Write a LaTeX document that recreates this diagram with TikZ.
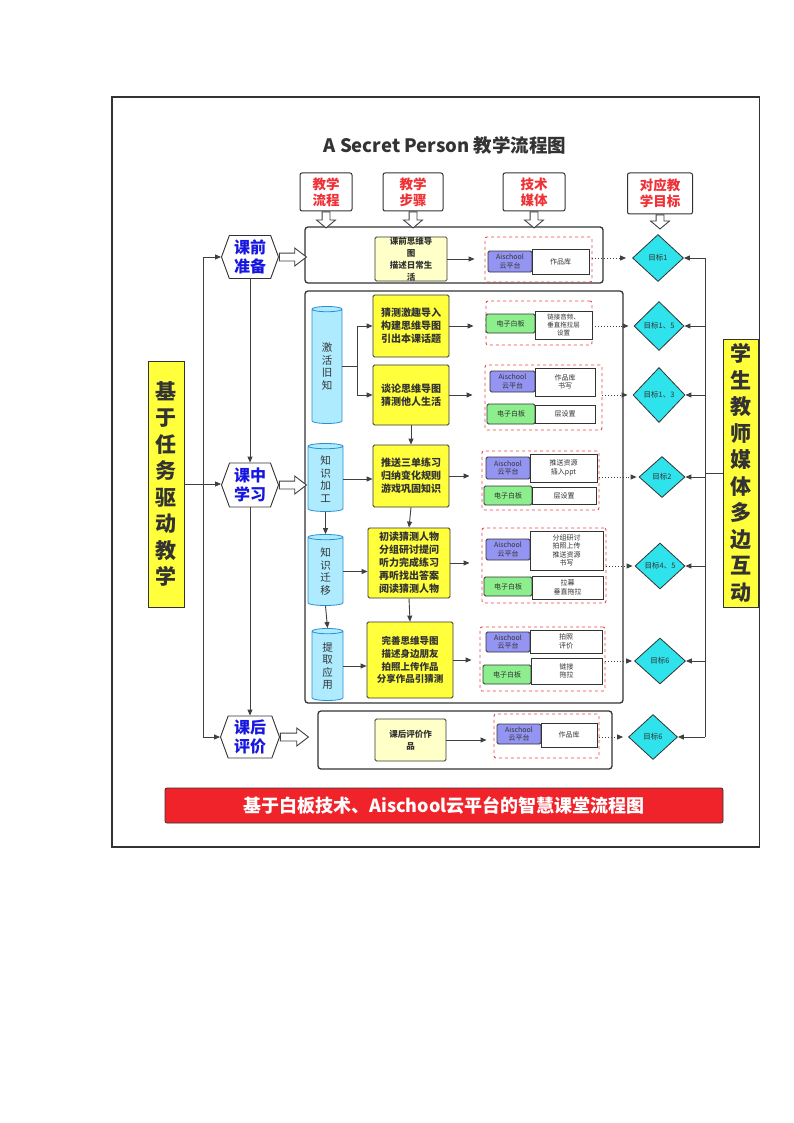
\documentclass[tikz,border=0pt]{standalone}
\usepackage{fontspec}
\setmainfont{Noto Sans CJK SC}
\usetikzlibrary{arrows.meta,shapes.geometric,shapes.symbols,shapes.arrows,calc}
\definecolor{lc}{HTML}{404040}
\definecolor{dk}{HTML}{333333}
\definecolor{hred}{HTML}{F03035}
\definecolor{hblue}{HTML}{1616E0}
\definecolor{yel}{HTML}{FFFF3C}
\definecolor{lyel}{HTML}{FFFFC8}
\definecolor{pur}{HTML}{9494F2}
\definecolor{grn}{HTML}{8CEE8C}
\definecolor{cya}{HTML}{2FE3EC}
\definecolor{cylf}{HTML}{AEEBFF}
\definecolor{cylb}{HTML}{2A8FCF}
\definecolor{dred}{HTML}{F04545}
\definecolor{bred}{HTML}{F0222A}
\tikzset{
  sz/.style 2 args={minimum width=#1pt, minimum height=#2pt},
  box/.style={draw=dk, line width=0.8pt, inner sep=0pt, align=center},
  hdr/.style={box, fill=white, rounded corners=2pt, text=hred, line width=1pt,
    font=\fontsize{13.5}{16}\selectfont\bfseries},
  hexa/.style={signal, signal to=west and east, signal pointer angle=140, draw=dk,
    line width=0.9pt, fill=white, text=hblue, inner sep=0pt, align=center,
    font=\fontsize{16}{19.5}\selectfont\bfseries},
  dia/.style={diamond, draw=dk, fill=cya, line width=0.8pt, inner sep=0pt,
    text=dk, font=\fontsize{7.5}{9}\selectfont},
  bigbox/.style={draw=dk, line width=1.3pt, rounded corners=3pt, fill=white},
  grp/.style={draw=dred, dashed, line width=0.9pt, rounded corners=2pt, inner sep=0pt},
  ybox/.style={box, fill=yel, rounded corners=1.5pt, text=dk,
    font=\fontsize{10}{13}\selectfont\bfseries},
  lybox/.style={box, fill=lyel, rounded corners=1.5pt, text=dk,
    font=\fontsize{8.5}{12}\selectfont\bfseries},
  pbox/.style={box, fill=pur, rounded corners=1.5pt, text=dk,
    font=\fontsize{7}{8.5}\selectfont},
  gbox/.style={box, fill=grn, rounded corners=1.5pt, text=dk,
    font=\fontsize{7}{8.5}\selectfont},
  wbox/.style={box, fill=white, text=dk, font=\fontsize{7}{8.5}\selectfont},
  cyl/.style={cylinder, shape border rotate=90, draw=cylb, fill=cylf, line width=0.8pt,
    inner sep=0pt, shape aspect=0.5, align=center, text=dk,
    font=\fontsize{10.5}{12.5}\selectfont},
  vbox/.style={box, fill=yel, text=dk, font=\fontsize{21}{26.5}\selectfont\bfseries},
  line/.style={draw=lc, line width=0.9pt},
  arr/.style={line, -{Triangle[length=6pt,width=5pt]}},
  darr/.style={draw=lc, line width=0.9pt, dotted, -{Triangle[length=6pt,width=5pt]}},
  harrowR/.style={single arrow, draw=lc, fill=white, line width=0.9pt, inner xsep=0pt,
    inner ysep=3.5pt, single arrow head extend=5pt, single arrow tip angle=75,
    minimum width=0pt, anchor=tail},
  harrowD/.style={single arrow, rotate=-90, draw=lc, fill=white, line width=0.9pt,
    inner xsep=0pt, inner ysep=3.5pt, single arrow head extend=5.5pt,
    single arrow tip angle=100, minimum width=0pt, anchor=tail}
}
\begin{document}
\begin{tikzpicture}[x=1pt,y=-1pt]
\useasboundingbox (0,0) rectangle (794,1123);
\fill[white] (0,0) rectangle (794,1123);
\draw[draw=dk, line width=1.8pt] (112,97) rectangle (759.5,847);

% title
\node[text=dk, font=\fontsize{18.5}{22}\selectfont\bfseries] (title) at (445,145) {A Secret Person 教学流程图};

% headers
\node[hdr, sz={52}{38}] (ha) at (326,192) {教学\\流程};
\node[hdr, sz={60}{38}] (hb) at (413,192) {教学\\步骤};
\node[hdr, sz={62}{38}] (hc) at (534,192) {技术\\媒体};
\node[hdr, sz={65}{41}] (hd) at (660,193.5) {对应教\\学目标};

% containers
\node[bigbox, sz={298}{56}] (top) at (454,255) {};
\node[bigbox, sz={318}{412}] (mb) at (464,497) {};
\node[bigbox, sz={294}{58}] (bb) at (465,740) {};

% header arrows
\node[harrowD, minimum height=16pt] (aa) at (ha.south) {};
\node[harrowD, minimum height=16pt] (ab) at (hb.south) {};
\node[harrowD, minimum height=16pt] (ac) at (hc.south) {};

% left side
\node[vbox, sz={36}{246}] (lb) at (166,484) {基\\于\\任\\务\\驱\\动\\教\\学};
\node[hexa, sz={57}{43}] (hx1) at (250,257) {课前\\准备};
\node[hexa, sz={57}{44}] (hx2) at (250,485) {课中\\学习};
\node[hexa, sz={59}{42}] (hx3) at (250,737) {课后\\评价};
\node[harrowR, minimum height=27pt] (r1) at (hx1.east) {};
\node[harrowR, minimum height=27pt] (r2) at (hx2.east) {};
\node[harrowR, minimum height=28pt] (r3) at (hx3.east) {};

% right side
\node[vbox, sz={35}{268}] (rb) at (740.5,473) {学\\生\\教\\师\\媒\\体\\多\\边\\互\\动};

% diamonds
\node[dia, sz={51}{47}] (d1) at (658,258) {目标1};
\node[dia, sz={50}{49}] (d2) at (659,326) {目标1、5};
\node[dia, sz={52}{55}] (d3) at (659,395) {目标1、3};
\node[dia, sz={46}{41}] (d4) at (662,477) {目标2};
\node[dia, sz={50}{46}] (d5) at (660,566) {目标4、5};
\node[dia, sz={51}{46}] (d6) at (660,661) {目标6};
\node[dia, sz={49}{45}] (d7) at (653,737) {目标6};
\node[harrowD, minimum height=14pt] (ad) at (hd.south) {};

% top row content
\node[lybox, sz={72}{42}] (ly1) at (411,259) {课前思维导\\图\\描述日常生\\活};
\node[grp, sz={107}{45}] (g0) at (538.5,259.5) {};
\node[pbox, sz={44}{21}] (p0) at (510,261.5) {Aischool\\云平台};
\node[wbox, sz={57}{25}] (w0) at (560.5,261.5) {作品库};

% middle: cylinders
\node[cyl, minimum width=30pt, minimum height=117pt] (c1) at (327,366.5) {激\\活\\旧\\知};
\node[cyl, minimum width=35pt, minimum height=68pt] (c2) at (325.5,479) {知\\识\\加\\工};
\node[cyl, minimum width=35pt, minimum height=71pt] (c3) at (325.5,571.5) {知\\识\\迁\\移};
\node[cyl, minimum width=31pt, minimum height=72pt] (c4) at (327.5,666) {提\\取\\应\\用};

% middle: yellow boxes
\node[ybox, sz={76}{62}] (y1) at (411,326) {猜测激趣导入\\构建思维导图\\引出本课话题};
\node[ybox, sz={76}{60}] (y2) at (411,395) {谈论思维导图\\猜测他人生活};
\node[ybox, sz={76}{62}] (y3) at (411,476) {推送三单练习\\归纳变化规则\\游戏巩固知识};
\node[ybox, sz={82}{70}] (y4) at (409,563) {初读猜测人物\\分组研讨提问\\听力完成练习\\再听找出答案\\阅读猜测人物};
\node[ybox, sz={86}{76}, font=\fontsize{9.5}{12.8}\selectfont\bfseries] (y5) at (410,660) {完善思维导图\\描述身边朋友\\拍照上传作品\\分享作品引猜测};

% middle: media groups
\node[grp, sz={106}{44}] (g1) at (539,323) {};
\node[gbox, sz={49}{19}] (gr1) at (510.5,323.5) {电子白板};
\node[wbox, sz={57}{28}, font=\fontsize{6.5}{8}\selectfont] (wt1) at (563.5,325) {链接音频、\\垂直拖拉层\\设置};

\node[grp, sz={117}{65}] (g2) at (543.5,397.5) {};
\node[pbox, sz={45}{21}] (pu2) at (512.5,381.5) {Aischool\\云平台};
\node[wbox, sz={60}{28}] (wt2) at (565,382) {作品库\\书写};
\node[gbox, sz={48}{20}] (gr2) at (511,414) {电子白板};
\node[wbox, sz={60}{18}] (wt2b) at (565,414) {层设置};

\node[grp, sz={117}{59}] (g3) at (540.5,480.5) {};
\node[pbox, sz={44}{22}] (pu3) at (508,468) {Aischool\\云平台};
\node[wbox, sz={67}{28}] (wt3) at (563.5,468) {推送资源\\插入ppt};
\node[gbox, sz={48}{19}] (gr3) at (508,495.5) {电子白板};
\node[wbox, sz={64}{17}] (wt3b) at (564,495.5) {层设置};

\node[grp, sz={124}{75}] (g4) at (544,565.5) {};
\node[pbox, sz={44}{21}] (pu4) at (508,549.5) {Aischool\\云平台};
\node[wbox, sz={73}{39}] (wt4) at (566.5,550.5) {分组研讨\\拍照上传\\推送资源\\书写};
\node[gbox, sz={48}{19}] (gr4) at (508,586.5) {电子白板};
\node[wbox, sz={71}{23}] (wt4b) at (567.5,587.5) {拉幕\\垂直拖拉};

\node[grp, sz={125}{64}] (g5) at (542.5,659) {};
\node[pbox, sz={44}{20}] (pu5) at (508,642) {Aischool\\云平台};
\node[wbox, sz={72}{23}] (wt5) at (566,641.5) {拍照\\评价};
\node[gbox, sz={48}{19}] (gr5) at (507,674.5) {电子白板};
\node[wbox, sz={71}{26}] (wt5b) at (566.5,671) {链接\\拖拉};

% bottom row content
\node[lybox, sz={71}{42}] (ly2) at (410.5,740) {课后评价作\\品};
\node[grp, sz={105}{44}] (g6) at (546.5,736) {};
\node[pbox, sz={44}{20}] (p6) at (519,734) {Aischool\\云平台};
\node[wbox, sz={56}{24}] (w6) at (569,735) {作品库};

% banner
\node[draw=dk, fill=bred, line width=0.8pt, rounded corners=2pt, sz={558}{35},
  text=white, font=\fontsize{18}{20}\selectfont\bfseries] (ban) at (444,805.5)
  {基于白板技术、Aischool云平台的智慧课堂流程图};

% ---- connectors ----
% left side
\coordinate (lx) at (203,0);
\draw[line] (hx1.west -| lx) -- (hx3.west -| lx);
\draw[arr] (hx1.west -| lx) -- (hx1.west);
\draw[arr] (hx3.west -| lx) -- (hx3.west);
\draw[arr] (lb.east) -- (lb.east -| hx2.west);
\draw[arr] (hx1.south) -- (hx2.north);
\draw[arr] (hx2.south) -- (hx3.north);

% right side
\coordinate (rx) at (705,0);
\draw[line] (d1.east -| rx) -- (d7.east -| rx);
\draw[line] (rb.west) -- (rb.west -| rx);
\foreach \d in {d1,d2,d3,d4,d5,d6,d7}
  \draw[arr] (\d.east -| rx) -- (\d.east);

% top and bottom rows
\draw[arr, shorten >=10pt] (ly1.east) -- (ly1.east -| g0.west);
\draw[darr, shorten >=6pt] (g0.east |- d1.west) -- (d1.west);
\draw[arr, shorten >=7pt] (ly2.east) -- (ly2.east -| g6.west);
\draw[darr, shorten >=5pt] (g6.east |- d7.west) -- (d7.west);

% middle: cylinders to boxes
\coordinate (j1) at (357,0);
\draw[line] (c1.east) -- (c1.east -| j1);
\draw[line] (j1 |- y1.west) -- (j1 |- y2.west);
\draw[arr] (j1 |- y1.west) -- (y1.west);
\draw[arr] (j1 |- y2.west) -- (y2.west);
\draw[arr] (c2.east) -- (c2.east -| y3.west);
\draw[arr] (c3.east) -- (c3.east -| y4.west);
\draw[arr] (c4.east) -- (c4.east -| y5.west);
\draw[arr] (c2.south) -- (c3.north);
\draw[arr] (c3.south) -- (c4.north);
\draw[arr] (y2.south) -- (y3.north);
\draw[arr] (y3.south) -- (y4.north);
\draw[arr] (y4.south) -- (y5.north);

% middle: boxes to media groups
\draw[arr, shorten >=12pt] (y1.east) -- (y1.east -| g1.west);
\draw[arr, shorten >=12pt] (y2.east) -- (y2.east -| g2.west);
\draw[arr, shorten >=12pt] (y3.east) -- (y3.east -| g3.west);
\draw[arr, shorten >=12pt] (y4.east) -- (y4.east -| g4.west);
\draw[arr, shorten >=8pt] (y5.east) -- (y5.east -| g5.west);

% media groups to goals
\draw[darr, shorten >=5pt] (g1.east |- d2.west) -- (d2.west);
\draw[darr, shorten >=5pt] (g2.east |- d3.west) -- (d3.west);
\draw[darr, shorten >=2pt] (g3.east |- d4.west) -- (d4.west);
\draw[darr, shorten >=2pt] (g4.east |- d5.west) -- (d5.west);
\draw[darr, shorten >=2pt] (g5.east |- d6.west) -- (d6.west);
\end{tikzpicture}
\end{document}
